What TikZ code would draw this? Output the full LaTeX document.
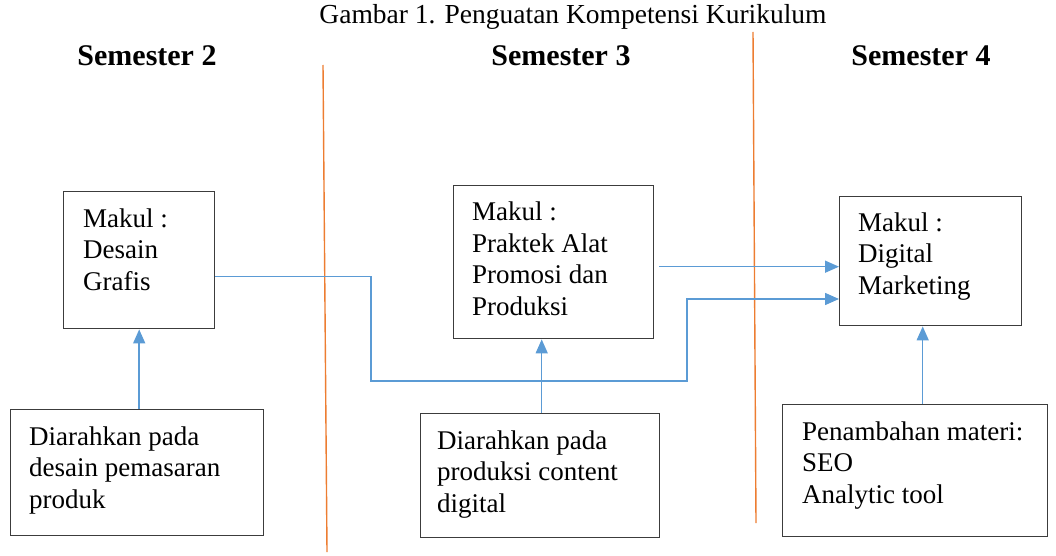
\documentclass[tikz,border=0pt]{standalone}
\usepackage{fontspec}
\setmainfont{Liberation Serif}
\usetikzlibrary{arrows.meta}
\definecolor{lnblue}{HTML}{5B9BD5}
\definecolor{lnorange}{HTML}{ED7D31}
\definecolor{boxgray}{HTML}{3C3C3C}
\begin{document}
\begin{tikzpicture}[x=1pt,y=-1pt,
  box/.style={draw=boxgray,line width=1.4pt,rectangle,inner sep=0pt,anchor=north west},
  txt/.style={inner sep=0pt,align=left,anchor=base west,font=\fontsize{27}{31.5}\selectfont},
  head/.style={inner sep=0pt,anchor=base,font=\fontsize{30}{34}\selectfont\bfseries},
  arr/.style={draw=lnblue,line width=1.5pt,-{Triangle[length=14pt,width=12pt]}},
  sep/.style={draw=lnorange,line width=1.4pt}]
\useasboundingbox (0,0) rectangle (1056,556);
% title and headings
\node[inner sep=0pt,anchor=base,font=\fontsize{27.5}{31}\selectfont] (title) at (573,24) {Gambar 1. Penguatan Kompetensi Kurikulum};
\node[head] (s2) at (147,66) {Semester 2};
\node[head] (s3) at (561,66) {Semester 3};
\node[head] (s4) at (921,66) {Semester 4};
% separators
\coordinate (o1a) at (323,65); \coordinate (o1b) at (327,552);
\coordinate (o2a) at (753,32); \coordinate (o2b) at (756,523);
\draw[sep] (o1a) -- (o1b);
\draw[sep] (o2a) -- (o2b);
% boxes
\node[box,minimum width=151pt,minimum height=137pt] (b1) at (63,191) {};
\node[box,minimum width=200pt,minimum height=153pt] (b2) at (453,185) {};
\node[box,minimum width=182pt,minimum height=129pt] (b3) at (839,196) {};
\node[box,minimum width=253pt,minimum height=126pt] (b4) at (10,409) {};
\node[box,minimum width=239pt,minimum height=124pt] (b5) at (420,413) {};
\node[box,minimum width=265pt,minimum height=132pt] (b6) at (782,404) {};
% texts (anchored at the baseline of the last line)
\node[txt] (t1) at (83,290) {Makul :\\Desain\\Grafis};
\node[txt] (t2) at (472,315) {Makul :\\Praktek Alat\\Promosi dan\\Produksi};
\node[txt] (t3) at (858,294) {Makul :\\Digital\\Marketing};
\node[txt] (t4) at (29,508) {Diarahkan pada\\desain pemasaran\\produk};
\node[txt] (t5) at (437,512) {Diarahkan pada\\produksi content\\digital};
\node[txt] (t6) at (802,503) {Penambahan materi:\\SEO\\Analytic tool};
% connectors
\draw[arr] (b4.north -| b1.south) -- (b1.south);
\draw[arr] ([xshift=1.5pt]b5.north) -- ([xshift=1.5pt]b5.north |- b2.south);
\draw[arr] ([xshift=7.5pt]b6.north) -- ([xshift=7.5pt]b6.north |- b3.south);
\coordinate (k1) at (371,381);
\coordinate (k2) at (687,299);
\draw[arr] ([yshift=-16.5pt]b1.east) -| (k1) -| (k2) -- (k2 -| b3.west);
\draw[arr] ([xshift=5pt,yshift=-4.5pt]b2.east) -- ([yshift=-4.5pt]b2.east -| b3.west);
\end{tikzpicture}
\end{document}
